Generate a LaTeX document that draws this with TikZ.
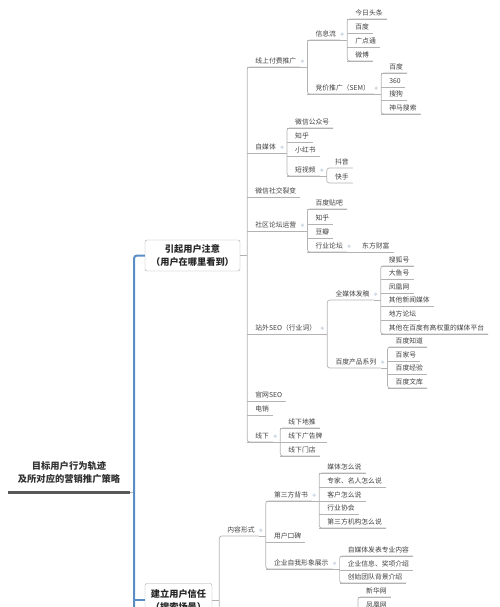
\documentclass[tikz,border=0pt]{standalone}
\usepackage{fontspec}
\setmainfont{Noto Sans CJK SC}
\definecolor{spineblue}{HTML}{5A8DC3}
\definecolor{branch}{HTML}{B3B3B3}
\definecolor{ink}{HTML}{404040}
\definecolor{fold}{HTML}{D3DCE6}
\tikzset{
  topic/.style={font=\fontsize{6.8}{8}\selectfont, text=ink, anchor=south west,
    xshift=4pt, inner xsep=4pt, inner ysep=2.2pt, text height=5.9pt, text depth=0.9pt},
  link/.style={draw=branch, line width=0.7pt},
  mainbox/.style={draw=black!35, fill=white, rounded corners=2pt, align=center,
    font=\fontsize{9.2}{13}\selectfont\bfseries, text=black!85},
}

\begin{document}
\begin{tikzpicture}[x=1pt, y=-1pt]
  \useasboundingbox (0,0) rectangle (500,607);
  \clip (0,0) rectangle (500,607);

  % root and the two stages
  \node[font=\fontsize{9.3}{13}\selectfont\bfseries, text=black!80, align=center,
    anchor=south, minimum width=122pt, inner ysep=8pt] (goal) at (69,492)
    {目标用户行为轨迹\\及所对应的营销推广策略};
  \draw[line width=3pt, draw=black!65] (goal.south west) -- (goal.south east);
  \node[mainbox, minimum width=95pt, minimum height=31pt] (attn) at (192.5,255.5)
    {引起用户注意\\（用户在哪里看到）};
  \node[mainbox, minimum width=67pt, minimum height=33pt] (trust) at (178.5,600)
    {建立用户信任\\（搜索场景）};
  \coordinate (spine) at (134,492);
  \coordinate (spineend) at (134,660);
  \draw[link] (goal.south east) -- (spine);
  \draw[spineblue, line width=2pt, rounded corners=3pt] (attn.west) -| (spineend);
  \draw[spineblue, line width=2pt] (trust.west -| spine) -- (trust.west);

  % stage 1
  \coordinate (battn) at ([xshift=7pt]attn.east);
  \draw[link] (attn.east) -- (battn);
  \foreach \n/\txt/\y in {paid/线上付费推广/67, self/自媒体/153, wechat/微信社交裂变/197,
      forum/社区论坛运营/231, seo/站外SEO（行业词）/334, site/官网SEO/401,
      tele/电销/415, offline/线下/442} {
    \node[topic] (\n) at (battn |- 0,\y) {\txt};
    \draw[link] (battn |- \n.south) -- (\n.south east);
  }
  \draw[link, rounded corners=2.5pt] (paid.south east) -| (battn) |- (offline.south east);

  % paid
  \coordinate (bpaid) at ([xshift=7pt]paid.south east);
  \draw[link] (paid.south east) -- (bpaid);
  \fill[fold] ([xshift=2pt]paid.east) circle (1.8pt);
  \foreach \n/\txt/\y in {info/信息流/40, sem/竞价推广（SEM）/94} {
    \node[topic] (\n) at (bpaid |- 0,\y) {\txt};
    \draw[link] (bpaid |- \n.south) -- (\n.south east);
  }
  \draw[link, rounded corners=2.5pt] (info.south east) -| (bpaid) |- (sem.south east);

  \coordinate (binfo) at ([xshift=7pt]info.south east);
  \draw[link] (info.south east) -- (binfo);
  \fill[fold] ([xshift=2pt]info.east) circle (1.8pt);
  \foreach \txt/\y [count=\i] in {今日头条/19, 百度/33, 广点通/47, 微博/61} {
    \node[topic] (info\i) at (binfo |- 0,\y) {\txt};
    \draw[link] (binfo |- info\i.south) -- (info\i.south east);
  }
  \draw[link, rounded corners=2.5pt] (info1.south east) -| (binfo) |- (info4.south east);

  \coordinate (bsem) at ([xshift=7pt]sem.south east);
  \draw[link] (sem.south east) -- (bsem);
  \fill[fold] ([xshift=2pt]sem.east) circle (1.8pt);
  \foreach \txt/\y [count=\i] in {百度/73, 360/87, 搜狗/100, 神马搜索/114} {
    \node[topic] (sem\i) at (bsem |- 0,\y) {\txt};
    \draw[link] (bsem |- sem\i.south) -- (sem\i.south east);
  }
  \draw[link, rounded corners=2.5pt] (sem1.south east) -| (bsem) |- (sem4.south east);

  % self media
  \coordinate (bself) at ([xshift=7pt]self.south east);
  \draw[link] (self.south east) -- (bself);
  \fill[fold] ([xshift=2pt]self.east) circle (1.8pt);
  \foreach \n/\txt/\y in {wxmp/微信公众号/128, zhihu/知乎/142, xhs/小红书/156, video/短视频/176} {
    \node[topic] (\n) at (bself |- 0,\y) {\txt};
    \draw[link] (bself |- \n.south) -- (\n.south east);
  }
  \draw[link, rounded corners=2.5pt] (wxmp.south east) -| (bself) |- (video.south east);

  \coordinate (bvideo) at ([xshift=7pt]video.south east);
  \draw[link] (video.south east) -- (bvideo);
  \fill[fold] ([xshift=2pt]video.east) circle (1.8pt);
  \foreach \txt/\y [count=\i] in {抖音/168, 快手/183} {
    \node[topic] (video\i) at (bvideo |- 0,\y) {\txt};
  }
  \draw[link, rounded corners=2.5pt] (video1.south east) -| (bvideo) |- (video2.south east);

  % forums
  \coordinate (bforum) at ([xshift=7pt]forum.south east);
  \draw[link] (forum.south east) -- (bforum);
  \fill[fold] ([xshift=2pt]forum.east) circle (1.8pt);
  \foreach \n/\txt/\y in {tieba/百度贴吧/209, zhihu2/知乎/224, douban/豆瓣/238, bbs/行业论坛/252} {
    \node[topic] (\n) at (bforum |- 0,\y) {\txt};
    \draw[link] (bforum |- \n.south) -- (\n.south east);
  }
  \draw[link, rounded corners=2.5pt] (tieba.south east) -| (bforum) |- (bbs.south east);

  \coordinate (bbbs) at ([xshift=7pt]bbs.south east);
  \fill[fold] ([xshift=2pt]bbs.east) circle (1.8pt);
  \node[topic] (bbs1) at (bbbs) {东方财富};
  \draw[link] (bbs.south east) -- (bbs1.south east);

  % off-site seo
  \coordinate (bseo) at ([xshift=7pt]seo.south east);
  \draw[link] (seo.south east) -- (bseo);
  \fill[fold] ([xshift=2pt]seo.east) circle (1.8pt);
  \foreach \n/\txt/\y in {allmedia/全媒体发稿/300, bdprod/百度产品系列/368} {
    \node[topic] (\n) at (bseo |- 0,\y) {\txt};
  }
  \draw[link, rounded corners=2.5pt] (allmedia.south east) -| (bseo) |- (bdprod.south east);

  \coordinate (ballmedia) at ([xshift=7pt]allmedia.south east);
  \draw[link] (allmedia.south east) -- (ballmedia);
  \fill[fold] ([xshift=2pt]allmedia.east) circle (1.8pt);
  \foreach \txt/\y [count=\i] in {搜狐号/266, 大鱼号/279, 凤凰网/293, 其他新闻媒体/306,
      地方论坛/320, 其他在百度有高权重的媒体平台/334} {
    \node[topic] (allmedia\i) at (ballmedia |- 0,\y) {\txt};
    \draw[link] (ballmedia |- allmedia\i.south) -- (allmedia\i.south east);
  }
  \draw[link, rounded corners=2.5pt] (allmedia1.south east) -| (ballmedia) |- (allmedia6.south east);

  \coordinate (bbdprod) at ([xshift=7pt]bdprod.south east);
  \draw[link] (bdprod.south east) -- (bbdprod);
  \fill[fold] ([xshift=2pt]bdprod.east) circle (1.8pt);
  \foreach \txt/\y [count=\i] in {百度知道/347, 百家号/361, 百度经验/374, 百度文库/388} {
    \node[topic] (bdprod\i) at (bbdprod |- 0,\y) {\txt};
    \draw[link] (bbdprod |- bdprod\i.south) -- (bdprod\i.south east);
  }
  \draw[link, rounded corners=2.5pt] (bdprod1.south east) -| (bbdprod) |- (bdprod4.south east);

  % offline
  \coordinate (boffline) at ([xshift=7pt]offline.south east);
  \draw[link] (offline.south east) -- (boffline);
  \fill[fold] ([xshift=2pt]offline.east) circle (1.8pt);
  \foreach \txt/\y [count=\i] in {线下地推/428, 线下广告牌/442, 线下门店/456} {
    \node[topic] (offline\i) at (boffline |- 0,\y) {\txt};
    \draw[link] (boffline |- offline\i.south) -- (offline\i.south east);
  }
  \draw[link, rounded corners=2.5pt] (offline1.south east) -| (boffline) |- (offline3.south east);

  % stage 2
  \coordinate (btrust) at ([xshift=7pt]trust.east);
  \draw[link] (trust.east) -- (btrust);
  \node[topic] (content) at (btrust |- 0,536) {内容形式};
  \draw[link, rounded corners=2.5pt] (content.south east) -| (btrust |- spineend);

  \coordinate (bcontent) at ([xshift=7pt]content.south east);
  \draw[link] (content.south east) -- (bcontent);
  \fill[fold] ([xshift=2pt]content.east) circle (1.8pt);
  \foreach \n/\txt/\y in {third/第三方背书/501, wom/用户口碑/542, image/企业自我形象展示/569} {
    \node[topic] (\n) at (bcontent |- 0,\y) {\txt};
    \draw[link] (bcontent |- \n.south) -- (\n.south east);
  }
  \draw[link, rounded corners=2.5pt] (third.south east) -| (bcontent) |- (image.south east);

  \coordinate (bthird) at ([xshift=7pt]third.south east);
  \draw[link] (third.south east) -- (bthird);
  \fill[fold] ([xshift=2pt]third.east) circle (1.8pt);
  \foreach \txt/\y [count=\i] in {媒体怎么说/473, 专家、名人怎么说/487, 客户怎么说/501,
      行业协会/514, 第三方机构怎么说/528} {
    \node[topic] (third\i) at (bthird |- 0,\y) {\txt};
    \draw[link] (bthird |- third\i.south) -- (third\i.south east);
  }
  \draw[link, rounded corners=2.5pt] (third1.south east) -| (bthird) |- (third5.south east);

  \coordinate (bimage) at ([xshift=7pt]image.south east);
  \draw[link] (image.south east) -- (bimage);
  \fill[fold] ([xshift=2pt]image.east) circle (1.8pt);
  \foreach \txt/\y [count=\i] in {自媒体发表专业内容/556, 企业信息、奖项介绍/570, 创始团队背景介绍/583} {
    \node[topic] (image\i) at (bimage |- 0,\y) {\txt};
    \draw[link] (bimage |- image\i.south) -- (image\i.south east);
  }
  \draw[link, rounded corners=2.5pt] (image1.south east) -| (bimage) |- (image3.south east);

  % media list running off the page
  \coordinate (bmedia) at (358,660);
  \foreach \txt/\y [count=\i] in {新华网/597, 凤凰网/611} {
    \node[topic] (media\i) at (bmedia |- 0,\y) {\txt};
    \draw[link] (bmedia |- media\i.south) -- (media\i.south east);
  }
  \draw[link, rounded corners=2.5pt] (media1.south east) -| (bmedia);
\end{tikzpicture}
\end{document}
